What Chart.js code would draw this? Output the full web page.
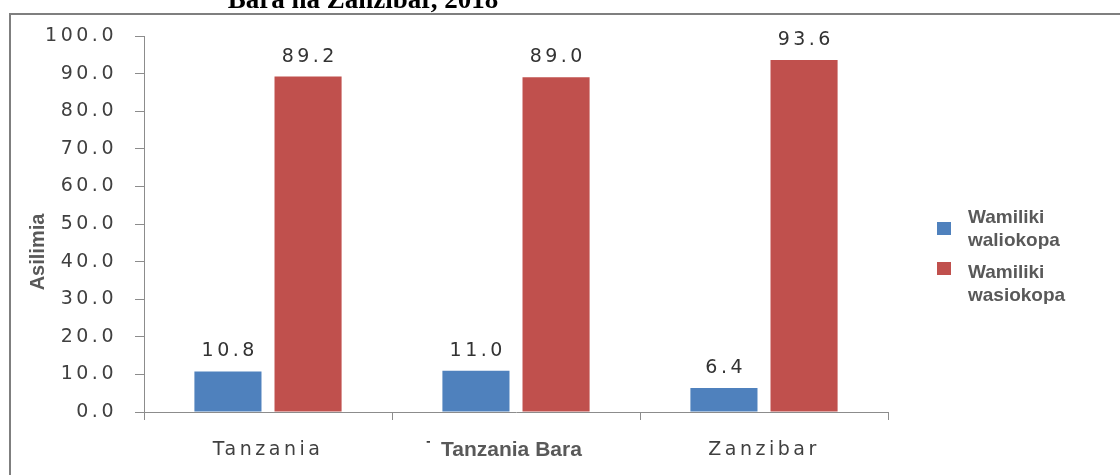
<!DOCTYPE html>
<html>
<head>
<meta charset="utf-8">
<script src="https://cdn.jsdelivr.net/npm/chart.js@4/dist/chart.umd.min.js"></script>
<style>
    html, body { margin: 0; padding: 0; background: #fff; }
    #wrap { position: relative; width: 1120px; height: 475px; overflow: hidden; background: #fff; }
    #wrap canvas { position: absolute; left: 0; top: 0; }
    .frame { position: absolute; left: 9px; top: 13px; width: 1200px; height: 600px;
             border-left: 2px solid #7f7f7f; border-top: 2px solid #7f7f7f; pointer-events: none; }
    .title { position: absolute; left: 0; top: -16px; width: 726px; text-align: center;
             font: bold 27px "Liberation Serif", "Times New Roman", serif; line-height: 30px; color: #000; white-space: nowrap; }
    .ytitle { position: absolute; left: 37px; top: 252px; transform: translate(-50%, -50%) rotate(-90deg);
              font: bold 20px "Liberation Sans", Arial, sans-serif; color: #595959; white-space: nowrap; }
    .xcover { position: absolute; left: 430px; top: 432px; width: 187px; height: 40px; background: #fff; }
    .xcover span { position: absolute; left: 11px; top: 5px; font: bold 21px "Liberation Sans", Arial, sans-serif;
                   line-height: 24px; color: #595959; white-space: nowrap; }
    .legend-item { position: absolute; left: 937px; width: 180px; }
    .legend-item .box { position: absolute; left: 0; width: 14px; height: 13px; }
    .legend-item .txt { position: absolute; left: 31px; top: 0; width: 140px; overflow: hidden;
                        font: bold 19px "Liberation Sans", Arial, sans-serif; line-height: 23px; color: #595959; }
</style>
</head>
<body>
<div id="wrap">
    <canvas id="chart"></canvas>
    <div class="frame"></div>
    <div class="title" id="chartTitle"></div>
    <div class="ytitle" id="yTitle"></div>
    <div class="xcover"><span id="xCover"></span></div>
    <div id="legend"></div>
</div>
<script>
// ============================================
// Wamiliki waliokopa / wasiokopa (asilimia)
// ============================================

const categories = ['Tanzania', 'Tanzania Bara', 'Zanzibar'];
const seriesNames = [['Wamiliki', 'waliokopa'], ['Wamiliki', 'wasiokopa']];
const borrowed = [10.8, 11.0, 6.4];
const notBorrowed = [89.2, 89.0, 93.6];
const yTicks = [0, 10, 20, 30, 40, 50, 60, 70, 80, 90, 100];
const seriesColors = ['#4f81bd', '#c0504d'];

const titleText = 'Bara na Zanzibar, 2018';
const yAxisTitle = 'Asilimia';

const LETTER_SPACING = 3.5;
const TICK_FONT = { family: '"DejaVu Sans", Verdana, sans-serif', size: 19 };
const AXIS_COLOR = '#8c8c8c';

// the source picture is stretched sideways, so canvas text gets extra spacing
const spacingPlugin = {
    id: 'spacing',
    beforeDraw(chart) { chart.ctx.letterSpacing = LETTER_SPACING + 'px'; },
    afterDraw(chart) { chart.ctx.letterSpacing = '0px'; }
};

const valueLabels = {
    id: 'valueLabels',
    afterDatasetsDraw(chart) {
        const ctx = chart.ctx;
        ctx.save();
        ctx.letterSpacing = LETTER_SPACING + 'px';
        ctx.font = `${TICK_FONT.size}px ${TICK_FONT.family}`;
        ctx.fillStyle = '#333333';
        ctx.textAlign = 'center';
        ctx.textBaseline = 'alphabetic';
        chart.data.datasets.forEach((ds, i) => {
            chart.getDatasetMeta(i).data.forEach((bar, j) => {
                ctx.fillText(ds.data[j].toFixed(1), bar.x + LETTER_SPACING / 2, bar.y - 15);
            });
        });
        ctx.restore();
    }
};

function buildOverlays() {
    document.getElementById('chartTitle').innerText = titleText;
    document.getElementById('yTitle').innerText = yAxisTitle;
    document.getElementById('xCover').innerText = categories[1];

    const tops = [205, 260];
    document.getElementById('legend').innerHTML = seriesNames.map((name, i) => `
        <div class="legend-item" style="top:${tops[i]}px">
            <div class="box" style="top:${i === 0 ? 17 : 2}px;background:${seriesColors[i]}"></div>
            <div class="txt" style="height:44px">${name.join('<br>')}</div>
        </div>
    `).join('');
}

function drawChart() {
    const ctx = document.getElementById('chart').getContext('2d');
    new Chart(ctx, {
        type: 'bar',
        data: {
            labels: categories,
            datasets: [
                { label: seriesNames[0].join(' '), data: borrowed, backgroundColor: seriesColors[0] },
                { label: seriesNames[1].join(' '), data: notBorrowed, backgroundColor: seriesColors[1] }
            ]
        },
        options: {
            responsive: true,
            maintainAspectRatio: false,
            animation: false,
            devicePixelRatio: 1,
            categoryPercentage: 0.646,
            barPercentage: 0.8375,
            layout: { padding: { top: 36, right: 232, bottom: 0, left: 0 } },
            plugins: { legend: { display: false }, tooltip: { enabled: false } },
            scales: {
                x: {
                    grid: { display: true, drawOnChartArea: false, drawTicks: true, tickLength: 8, color: AXIS_COLOR, offset: true },
                    border: { display: true, color: AXIS_COLOR, width: 1 },
                    ticks: { font: TICK_FONT, color: '#404040', padding: 19, maxRotation: 0, autoSkip: false },
                    afterFit: (s) => { s.height = 63; }
                },
                y: {
                    min: yTicks[0],
                    max: yTicks[yTicks.length - 1],
                    afterBuildTicks: (s) => { s.ticks = yTicks.map(v => ({ value: v })); },
                    grid: { display: true, drawOnChartArea: false, drawTicks: true, tickLength: 9, color: AXIS_COLOR },
                    border: { display: true, color: AXIS_COLOR, width: 1 },
                    ticks: { font: TICK_FONT, color: '#404040', padding: 18, callback: (v) => Number(v).toFixed(1) },
                    afterFit: (s) => { s.width = 144; }
                }
            }
        },
        plugins: [spacingPlugin, valueLabels]
    });
}

buildOverlays();
drawChart();
</script>
</body>
</html>
